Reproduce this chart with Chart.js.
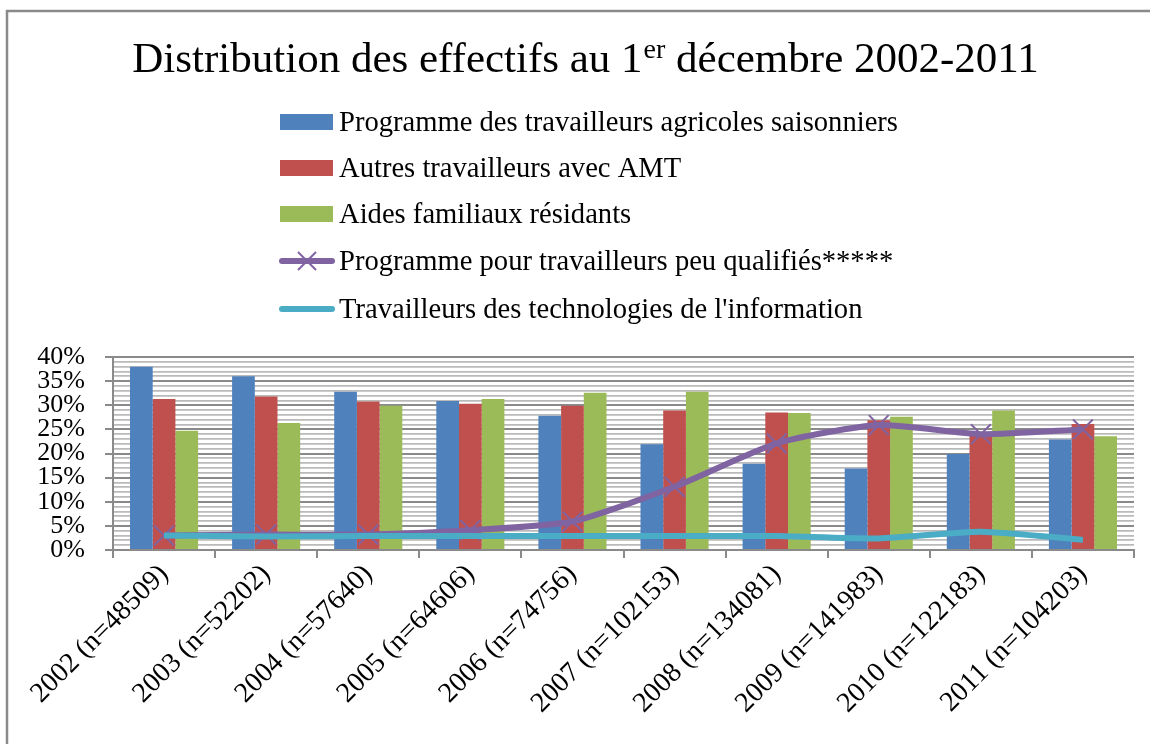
<!DOCTYPE html>
<html lang="fr">
<head>
<meta charset="utf-8">
<title>Distribution des effectifs au 1er décembre 2002-2011</title>
<script src="https://cdn.jsdelivr.net/npm/chart.js@4.4.1/dist/chart.umd.min.js"></script>
<style>
    html, body { margin: 0; padding: 0; background: #fff; }
    canvas { display: block; }
</style>
</head>
<body>
<canvas id="chart_effectifs" width="1150" height="744"></canvas>
<script>
// categories (x axis)
const categories = [
    '2002 (n=48509)', '2003 (n=52202)', '2004 (n=57640)', '2005 (n=64606)', '2006 (n=74756)',
    '2007 (n=102153)', '2008 (n=134081)', '2009 (n=141983)', '2010 (n=122183)', '2011 (n=104203)'
];

// series values, in %
const seasonalAgri = [38, 36, 32.8, 30.9, 27.8, 21.9, 17.9, 16.9, 19.9, 22.9];
const otherLmo = [31.3, 31.8, 30.8, 30.3, 29.9, 28.9, 28.5, 26.9, 24.2, 26.1];
const liveInCaregivers = [24.7, 26.3, 29.9, 31.3, 32.6, 32.8, 28.4, 27.6, 28.9, 23.6];
const lowSkilled = [3.0, 3.2, 3.2, 4.1, 5.9, 13.1, 22.1, 25.9, 24.0, 25.0];
const itWorkers = [3.0, 2.8, 2.9, 2.9, 2.9, 2.9, 2.9, 2.4, 3.8, 2.1];

const seriesLabels = [
    'Programme des travailleurs agricoles saisonniers',
    'Autres travailleurs avec AMT',
    'Aides familiaux résidants',
    'Programme pour travailleurs peu qualifiés*****',
    "Travailleurs des technologies de l'information"
];

const yMax = 40;

const FONT = "'Liberation Serif', 'Times New Roman', serif";
const BLUE = '#4f81bd';
const RED = '#c0504d';
const GREEN = '#9bbb59';
const PURPLE = '#8064a2';
const CYAN = '#4bacc6';
const AXIS_GREY = '#8a8a8a';
const MINOR_GREY = '#bababa';

// white background + left/top frame
const framePlugin = {
    id: 'frame',
    beforeDraw(chart) {
        const ctx = chart.ctx;
        ctx.save();
        ctx.fillStyle = '#fff';
        ctx.fillRect(0, 0, chart.width, chart.height);
        ctx.strokeStyle = AXIS_GREY;
        ctx.lineWidth = 2.5;
        ctx.beginPath();
        ctx.moveTo(7, chart.height);
        ctx.lineTo(7, 11);
        ctx.lineTo(chart.width, 11);
        ctx.stroke();
        ctx.restore();
    }
};

// title with superscript and a vertical legend above the plot
const headerPlugin = {
    id: 'header',
    afterDraw(chart) {
        const ctx = chart.ctx;
        ctx.save();
        ctx.fillStyle = '#000';
        ctx.textBaseline = 'alphabetic';
        ctx.textAlign = 'left';

        // title
        const partA = 'Distribution des effectifs au 1';
        const sup = 'er';
        const partB = ' décembre 2002-2011';
        ctx.font = `43px ${FONT}`;
        const wa = ctx.measureText(partA).width;
        const wb = ctx.measureText(partB).width;
        ctx.font = `28px ${FONT}`;
        const ws = ctx.measureText(sup).width;
        let x = 585 - (wa + ws + wb) / 2;
        const base = 72;
        ctx.font = `43px ${FONT}`;
        ctx.fillText(partA, x, base);
        x += wa;
        ctx.font = `28px ${FONT}`;
        ctx.fillText(sup, x + 1, base - 14);
        x += ws + 1;
        ctx.font = `43px ${FONT}`;
        ctx.fillText(partB, x, base);

        // legend
        const rowY = [122, 168, 214, 261, 309];
        ctx.font = `28.6px ${FONT}`;
        ctx.textBaseline = 'middle';
        chart.data.datasets.forEach((ds, i) => {
            const y = rowY[i];
            if (ds.type === 'bar') {
                ctx.fillStyle = ds.backgroundColor;
                ctx.fillRect(280, y - 8, 53, 16);
            } else {
                ctx.strokeStyle = ds.borderColor;
                ctx.lineWidth = 6;
                ctx.lineCap = 'round';
                ctx.beginPath();
                ctx.moveTo(282, y);
                ctx.lineTo(332, y);
                ctx.stroke();
                if (ds.pointStyle === 'crossRot') {
                    ctx.lineWidth = 2;
                    ctx.lineCap = 'butt';
                    ctx.beginPath();
                    ctx.moveTo(298, y - 9);
                    ctx.lineTo(316, y + 9);
                    ctx.moveTo(298, y + 9);
                    ctx.lineTo(316, y - 9);
                    ctx.stroke();
                }
            }
            ctx.fillStyle = '#000';
            ctx.fillText(ds.label, 339, y + 1);
        });
        ctx.restore();
    }
};

const ctx = document.getElementById('chart_effectifs');

new Chart(ctx, {
    type: 'bar',
    data: {
        labels: categories,
        datasets: [
            { type: 'bar', label: seriesLabels[0], data: seasonalAgri, backgroundColor: BLUE, order: 3 },
            { type: 'bar', label: seriesLabels[1], data: otherLmo, backgroundColor: RED, order: 3 },
            { type: 'bar', label: seriesLabels[2], data: liveInCaregivers, backgroundColor: GREEN, order: 3 },
            {
                type: 'line', label: seriesLabels[3], data: lowSkilled,
                borderColor: PURPLE, backgroundColor: PURPLE, borderWidth: 6, tension: 0.2,
                pointStyle: 'crossRot', pointRadius: 14, pointBorderWidth: 2,
                pointBorderColor: PURPLE, order: 2
            },
            {
                type: 'line', label: seriesLabels[4], data: itWorkers,
                borderColor: CYAN, backgroundColor: CYAN, borderWidth: 6, tension: 0.2,
                pointRadius: 0, order: 1
            }
        ]
    },
    options: {
        responsive: false,
        animation: false,
        layout: {
            padding: { top: 357, right: 15, left: 0, bottom: 0 }
        },
        datasets: {
            bar: { categoryPercentage: 0.667, barPercentage: 1.0 }
        },
        plugins: {
            legend: { display: false },
            title: { display: false },
            tooltip: { enabled: false }
        },
        scales: {
            x: {
                afterFit: scale => { scale.height = 194; },
                grid: {
                    offset: true,
                    drawOnChartArea: false,
                    color: AXIS_GREY,
                    lineWidth: 2,
                    tickLength: 8
                },
                border: { color: AXIS_GREY, width: 2 },
                ticks: {
                    color: '#000',
                    font: { family: FONT, size: 28 },
                    minRotation: 45,
                    maxRotation: 45,
                    autoSkip: false,
                    padding: 0
                }
            },
            y: {
                min: 0,
                max: yMax,
                afterFit: scale => { scale.width = 113; },
                grid: {
                    color: c => (c.tick && c.tick.value % 5 === 0) ? AXIS_GREY : MINOR_GREY,
                    lineWidth: c => (c.tick && c.tick.value % 5 === 0) ? 2 : 1.8,
                    tickColor: c => (c.tick && c.tick.value % 5 === 0) ? AXIS_GREY : 'rgba(0,0,0,0)',
                    tickLength: 8
                },
                border: { color: AXIS_GREY, width: 2 },
                ticks: {
                    stepSize: 1,
                    maxTicksLimit: 50,
                    autoSkip: false,
                    color: '#000',
                    font: { family: FONT, size: 26 },
                    padding: 20,
                    callback: v => (v % 5 === 0) ? v + '%' : ''
                }
            }
        }
    },
    plugins: [framePlugin, headerPlugin]
});
</script>
</body>
</html>
